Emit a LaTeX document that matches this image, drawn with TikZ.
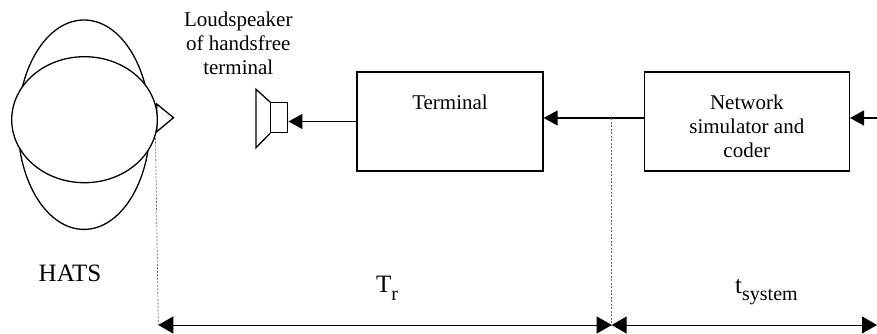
\documentclass[tikz,border=0pt]{standalone}
\usepackage{fontspec}
\setmainfont{Liberation Serif}
\usetikzlibrary{positioning,calc,arrows.meta}

\begin{document}
\begin{tikzpicture}[x=1pt,y=-1pt,
		blk/.style={draw, line width=1.4pt, minimum width=#1, minimum height=99pt, inner sep=0pt},
		lbl/.style={font=\fontsize{21}{24}\selectfont, align=center, inner sep=0pt},
		big/.style={font=\fontsize{25}{28}\selectfont, inner sep=0pt},
		sig/.style={line width=1.4pt, -{Triangle[length=14pt,width=15pt]}},
		dim/.style={line width=1pt, {Triangle[length=15pt,width=17pt]}-{Triangle[length=15pt,width=17pt]}},
		tap/.style={black!60, line width=0.7pt, dash pattern=on 2pt off 1.5pt}]
		\useasboundingbox (0,0) rectangle (877,334);
		% head and torso
		\draw[line width=1.3pt] (84,124.7) ellipse [x radius=66, y radius=104.7];
		\draw[line width=1.3pt] (156.7,104) -- (173.5,117.7) -- (156.7,131.7) -- cycle;
		\draw[line width=1.3pt, fill=white] (84.5,119.7) ellipse [x radius=72.8, y radius=63];
		\node[big, anchor=base] (hats) at (70,281.5) {HATS};
		% loudspeaker
		\node[draw, line width=1.3pt, minimum width=17pt, minimum height=30pt, inner sep=0pt] (spk) at (279.3,117.7) {};
		\draw[line width=1.3pt] (spk.north west) -- (256,89.3) -- (256,147.7) -- (spk.south west);
		\node[lbl, anchor=north] (spklbl) at (238.3,11.5) {Loudspeaker\\of handsfree\\terminal};
		% blocks
		\node[blk=186pt] (term) at (450,121.5) {};
		\node[lbl, anchor=base] (termlbl) at (450,109.3) {Terminal};
		\node[blk=205pt] (net) at (746.8,121.5) {};
		\node[lbl, anchor=north] (netlbl) at (746.8,94.5) {Network\\simulator and\\coder};
		\coordinate (in) at (877,118);
		\coordinate (tap) at (611.7,118);
		\draw[sig] (term.west) -- (term.west -| spk.east);
		\draw[sig] ([yshift=3.5pt]net.west) -- ([yshift=3.5pt]term.east);
		\draw[sig] (in) -- (in -| net.east);
		% delay marks
		\coordinate (ear) at (155.5,138);
		\coordinate (earb) at (158.3,325);
		\coordinate (tapb) at (611.7,325);
		\coordinate (endb) at (877,325);
		\draw[tap] (ear) -- (earb);
		\draw[tap] (tap) -- (tapb);
		\draw[dim] (earb) -- (tapb);
		\draw[dim] (tapb) -- (endb);
		\node[big, anchor=base west] (tr) at (376,292.7) {T\raisebox{-8pt}{\fontsize{20}{20}\selectfont r}};
		\node[big, anchor=base west] (tsys) at (735,293.3) {t\raisebox{-7pt}{\fontsize{20}{20}\selectfont system}};
	\end{tikzpicture}
\end{document}
